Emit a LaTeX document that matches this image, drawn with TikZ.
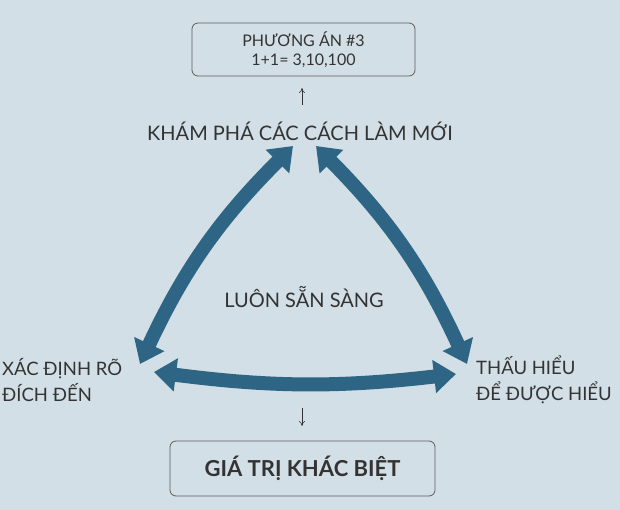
\documentclass[tikz,border=0pt]{standalone}
\usepackage{fontspec}
\setmainfont{Lato}
\usetikzlibrary{arrows.meta}
\definecolor{bg}{HTML}{D3DFE6}
\definecolor{band}{HTML}{2F6584}
\definecolor{txt}{HTML}{333333}
\tikzset{
 bandarrow/.style={draw=band,line width=14pt,{Triangle[width=32pt,length=22pt]}-{Triangle[width=32pt,length=22pt]}},
 lbl/.style={text=txt,font=\fontsize{20}{24}\selectfont,align=center,inner sep=0pt},
 boxx/.style={draw=txt!80,rounded corners=6pt,line width=0.8pt,text=txt,align=center},
 thin/.style={draw=txt,line width=0.6pt,-{To[length=5pt,width=6pt]}}
}
\begin{document}
\begin{tikzpicture}[x=1pt,y=-1pt]
\fill[bg] (0,0) rectangle (620,510);
\useasboundingbox (0,0) rectangle (620,510);
\node[boxx,minimum width=223pt,minimum height=53pt,font=\fontsize{16}{19}\selectfont] (top) at (303.5,49.5) {PHƯƠNG ÁN \#3\\1+1= 3,10,100};
\node[lbl] (kp) at (300,131) {KHÁM PHÁ CÁC CÁCH LÀM MỚI};
\node[lbl] (ls) at (304,297) {LUÔN SẴN SÀNG};
\node[lbl,anchor=west,align=left,font=\fontsize{18.5}{26}\selectfont] (xd) at (2,380) {XÁC ĐỊNH RÕ\\ĐÍCH ĐẾN};
\node[lbl,anchor=west,align=left,font=\fontsize{18.5}{26}\selectfont] (th) at (476,380) {THẤU HIỂU\\ĐỂ ĐƯỢC HIỂU};
\node[boxx,minimum width=265pt,minimum height=55pt,font=\fontsize{22}{26}\selectfont\bfseries] (gt) at (302.5,468.5) {GIÁ TRỊ KHÁC BIỆT};
\coordinate (a1) at (140,364); \coordinate (a2) at (293,146);
\coordinate (b1) at (316,146); \coordinate (b2) at (467,364);
\coordinate (c1) at (154,372); \coordinate (c2) at (456,374);
\draw[bandarrow] (a1) to[bend left=10] (a2);
\draw[bandarrow] (b1) to[bend left=10] (b2);
\draw[bandarrow] (c1) to[bend right=7] (c2);
\coordinate (u1) at (302,105); \coordinate (u2) at (302,88);
\draw[thin] (u1) -- (u2);
\coordinate (d1) at (302,408); \coordinate (d2) at (302,426);
\draw[thin] (d1) -- (d2);
\end{tikzpicture}
\end{document}
